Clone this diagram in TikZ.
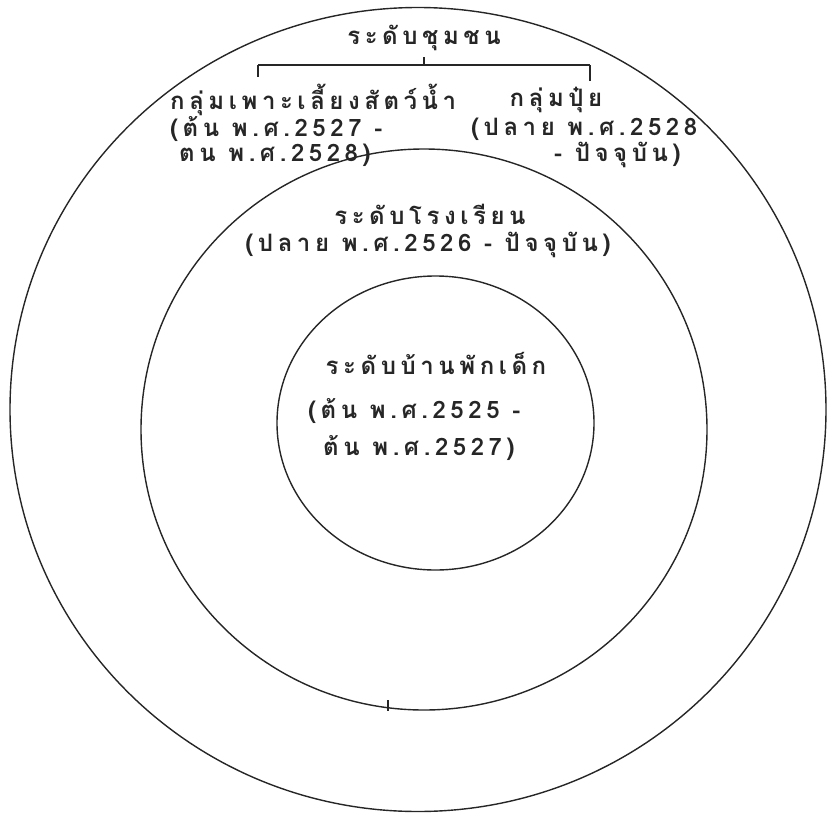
\documentclass[tikz,border=0pt]{standalone}
\usepackage{fontspec}
\newfontfamily\thaifont[Script=Thai,LetterSpace=19]{Loma}
\tikzset{
  ring/.style  = {line width=1.4pt, draw=black!85},
  lbl/.style   = {font=\thaifont\bfseries\fontsize{24}{27}\selectfont, inner sep=0pt, text=black!85},
  lbll/.style  = {lbl, anchor=west},
  brace/.style = {line width=1.3pt, draw=black!85},
}
\begin{document}
\begin{tikzpicture}[x=1pt, y=-1pt]
\useasboundingbox (0,0) rectangle (828,817);

%% rings
\draw[ring] (418,409.5) ellipse [x radius=408, y radius=402];
\draw[ring] (424,429.5) ellipse [x radius=283, y radius=280.5];
\draw[ring] (435.5,423) ellipse [x radius=158.5, y radius=147];
\draw[ring] (388,700) -- (388,711);

%% community level
\node[lbl] (comm) at (424,38) {ระดับชุมชน};
\coordinate (brMid) at (424,65);
\coordinate (brL)   at (258,65);
\coordinate (brR)   at (590,65);
\draw[brace] (brL) -- (brR);
\draw[brace] (brMid) -- ++(0,-8);
\draw[brace] (brL) -- ++(0,12);
\draw[brace] (brR) -- ++(0,16);

\node[lbll] (fish1) at (170,100) {กลุ่มเพาะเลี้ยงสัตว์น้ำ};
\node[lbll] (fish2) at (170,129) {(ต้น พ.ศ.2527 -};
\node[lbll] (fish3) at (179,155) {ตน พ.ศ.2528)};

\node[lbl]  (fert1) at (556,100) {กลุ่มปุ๋ย};
\node[lbll] (fert2) at (471,129) {(ปลาย พ.ศ.2528};
\node[lbll] (fert3) at (554,155) {- ปัจจุบัน)};

%% school level
\node[lbl] (school1) at (430,214) {ระดับโรงเรียน};
\node[lbl] (school2) at (428,245) {(ปลาย พ.ศ.2526 - ปัจจุบัน)};

%% children's home level
\node[lbl]  (home1) at (436,363) {ระดับบ้านพักเด็ก};
\node[lbll] (home2) at (308,411) {(ต้น พ.ศ.2525 -};
\node[lbll] (home3) at (323,448) {ต้น พ.ศ.2527)};

\end{tikzpicture}
\end{document}
